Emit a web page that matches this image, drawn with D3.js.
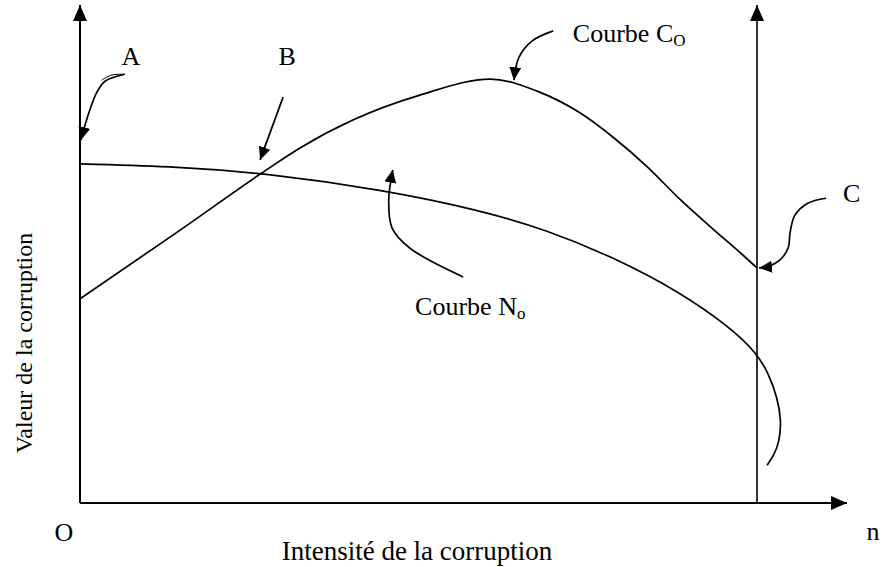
<!DOCTYPE html>
<html>
<head>
<meta charset="utf-8">
<script src="https://cdn.jsdelivr.net/npm/d3@7"></script>
<style>
  body { margin: 0; background: #fff; }
  svg { display: block; }
  text { font-family: "Liberation Serif", "Times New Roman", serif; fill: #000; }
</style>
</head>
<body>
<svg id="chart" width="883" height="567"></svg>
<script>
// Values in chart units: x = intensité (0..100 up to the bound C), y = valeur (0..100)
const X_END = 113.3;   // where the x-axis arrow stops

// Courbe C_O
const courbeCo = [
  [0, 41.0], [14.8, 54.8], [26.9, 66.3], [32.5, 71.3], [40.3, 76.9], [50.2, 81.9],
  [60.6, 85.1], [67.9, 82.5], [73.9, 78.3], [78.7, 73.5], [83.8, 67.5],
  [88.6, 61.0], [93.5, 55.0], [97.9, 49.8], [100, 47.2]
];

// Courbe N_o (bends back after the bound)
const courbeNo = [
  [0, 68.1], [14.8, 67.5], [26.9, 66.3], [44.8, 62.9], [59.1, 58.8], [69.0, 54.8],
  [78.7, 49.4], [88.6, 42.4], [96.0, 35.3], [100, 30.1], [101.8, 25.7],
  [103.0, 21.1], [103.6, 16.7], [103.3, 12.2], [102.5, 9.6], [101.5, 7.6]
];

// Annotation pointers (start -> tip)
const pointerA = [[6.6, 86.1], [3.7, 84.7], [2.5, 82.5], [1.2, 77.9], [0.15, 72.9]];
const pointerA2 = [[6.6, 86.1], [4.6, 85.9], [3.2, 84.9]];
const pointerB = [[30.0, 81.5], [26.6, 68.9]];
const pointerCo = [[69.9, 94.8], [66.8, 92.8], [64.8, 89.4], [64.1, 84.9]];
const pointerC = [[110.2, 61.2], [107.5, 60.2], [105.6, 57.8], [104.9, 54.4], [104.6, 51.2],
  [103.4, 48.8], [101.9, 47.6], [100.3, 47.2]];
const pointerNo = [[56.6, 45.4], [48.7, 51.2], [46.1, 55.2], [45.6, 60.8], [46.2, 66.9]];

// Point labels: [text, subscript, x, y, anchor]
const labels = [
  ['A', '', 7.5, 87.9, 'middle'],
  ['B', '', 30.6, 87.9, 'middle'],
  ['C', '', 114.0, 60.4, 'middle'],
  ['Courbe C', 'O', 72.8, 92.6, 'start'],
  ['Courbe N', 'o', 49.5, 37.8, 'start']
];

const xTitle = 'Intensité de la corruption';
const yTitle = 'Valeur de la corruption';

const svg = d3.select('#chart');
const x = d3.scaleLinear().domain([0, 100]).range([80, 757]);
const y = d3.scaleLinear().domain([0, 100]).range([503, 5]);

const defs = svg.append('defs');
defs.append('marker')
    .attr('id', 'axis-head')
    .attr('markerUnits', 'userSpaceOnUse')
    .attr('markerWidth', 16).attr('markerHeight', 14)
    .attr('refX', 16).attr('refY', 7)
    .attr('orient', 'auto')
  .append('path')
    .attr('d', 'M0,0L16,7L0,14Z');
defs.append('marker')
    .attr('id', 'pointer-head')
    .attr('markerUnits', 'userSpaceOnUse')
    .attr('markerWidth', 14).attr('markerHeight', 12)
    .attr('refX', 13).attr('refY', 6)
    .attr('orient', 'auto')
  .append('path')
    .attr('d', 'M0,0L13,6L0,12Z');

const straight = d3.line().x(d => x(d[0])).y(d => y(d[1]));
const smooth = d3.line().x(d => x(d[0])).y(d => y(d[1])).curve(d3.curveCatmullRom.alpha(0.5));
const monotone = d3.line().x(d => x(d[0])).y(d => y(d[1])).curve(d3.curveMonotoneX);
const basis = d3.line().x(d => x(d[0])).y(d => y(d[1])).curve(d3.curveBasis);

// Axes and the bound at C
const axes = svg.append('g').attr('fill', 'none').attr('stroke', '#000');
axes.append('path').datum([[0, 0], [X_END, 0]])
    .attr('d', straight).attr('stroke-width', 2).attr('marker-end', 'url(#axis-head)');
axes.append('path').datum([[0, 0], [0, 100]])
    .attr('d', straight).attr('stroke-width', 2).attr('marker-end', 'url(#axis-head)');
axes.append('path').datum([[100, 0], [100, 100]])
    .attr('d', straight).attr('stroke-width', 1.6).attr('marker-end', 'url(#axis-head)');

// Curves
const curves = svg.append('g').attr('fill', 'none').attr('stroke', '#000').attr('stroke-width', 1.7);
curves.append('path').datum(courbeCo).attr('d', monotone);
curves.append('path').datum(courbeNo).attr('d', basis);

// Pointers
const pointers = svg.append('g').attr('fill', 'none').attr('stroke', '#000').attr('stroke-width', 1.7);
[pointerA, pointerB, pointerCo, pointerC, pointerNo].forEach(p => {
  pointers.append('path').datum(p)
      .attr('d', p.length > 2 ? smooth : straight)
      .attr('marker-end', 'url(#pointer-head)');
});
pointers.append('path').datum(pointerA2).attr('d', smooth).attr('stroke-width', 1);

// Labels
const lab = svg.append('g').attr('font-size', 26);
labels.forEach(([t, sub, lx, ly, anchor]) => {
  const el = lab.append('text')
      .attr('x', x(lx)).attr('y', y(ly))
      .attr('text-anchor', anchor)
      .text(t);
  if (sub) el.append('tspan').attr('font-size', 17).attr('dy', 4).text(sub);
});

// Axis captions
lab.append('text').attr('x', x(0) - 16).attr('y', y(0) + 38)
    .attr('text-anchor', 'middle').text('O');
lab.append('text').attr('x', x(X_END) + 26).attr('y', y(0) + 37)
    .attr('text-anchor', 'middle').text('n');
lab.append('text').attr('x', 417).attr('y', y(0) + 57)
    .attr('text-anchor', 'middle').attr('font-size', 27).text(xTitle);
lab.append('text')
    .attr('transform', `translate(32, 343) rotate(-90)`)
    .attr('text-anchor', 'middle').attr('font-size', 24)
    .text(yTitle);
</script>
</body>
</html>
